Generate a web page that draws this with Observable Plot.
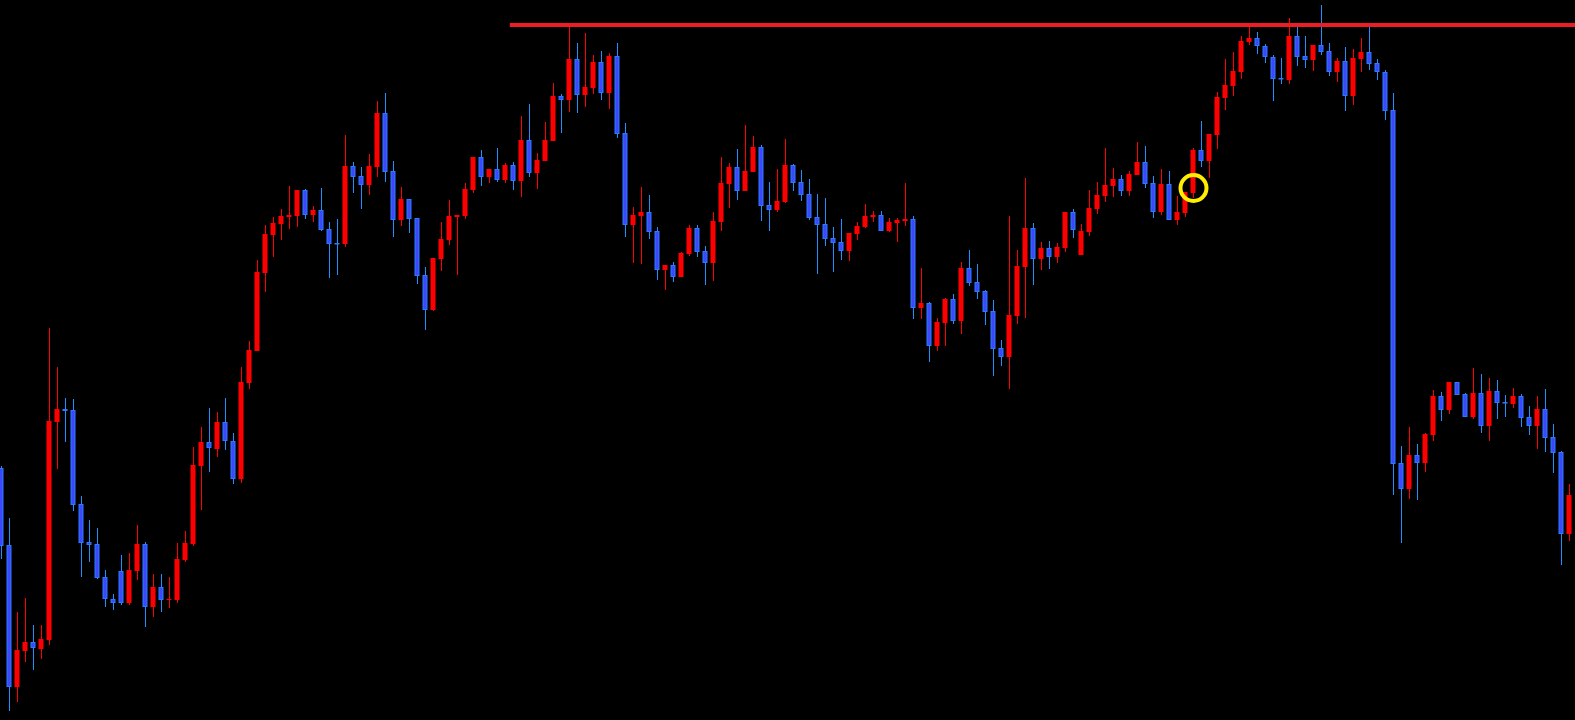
<!DOCTYPE html>
<html><head><meta charset="utf-8">
<script src="https://cdn.jsdelivr.net/npm/d3@7"></script>
<script src="https://cdn.jsdelivr.net/npm/@observablehq/plot@0.6"></script>
<style>html,body{margin:0;padding:0;background:#000;overflow:hidden}#chart svg{display:block}</style>
</head><body><div id="chart"></div>
<script>
// Candle values in chart units (0 = top of the chart, larger = lower price)
const open = [468,545,687,651,642,649,640,422,409,410,504,542,544,577,599,571,603,571,544,607,
587,600,600,560,544,466,442,449,422,441,479,383,351,273,235,224,217,216,190,215,
210,229,243,244,166,176,185,167,113,171,220,199,218,275,310,259,240,217,216,190,
157,177,169,180,165,181,140,173,161,141,96,100,59,95,88,62,93,56,133,225,
216,212,231,270,265,277,254,228,251,263,222,184,167,191,172,147,205,210,202,165,
182,194,217,224,238,242,251,234,227,217,215,231,223,221,219,308,303,346,323,299,
321,268,282,291,311,348,357,316,267,228,259,248,257,248,212,255,232,209,196,186,
179,191,175,162,183,212,184,220,213,193,150,161,135,98,86,72,42,38,46,57,
78,80,36,56,60,45,51,72,61,96,59,52,63,72,110,463,489,455,463,435,
396,410,382,394,417,393,426,391,402,404,396,417,426,409,437,452,534];
const close = [546,687,650,642,648,639,421,409,411,505,543,545,578,599,603,603,570,544,607,587,
600,599,559,543,465,442,448,422,441,479,382,350,272,234,223,216,215,190,215,210,
230,244,244.5,166,177,185,166,113,172,220,199,219,276,310,258,239,216,215,189,157,
177,169,180,165,181,140,173,160,140,96,100,59,95,87,62,93,56,134,225,215,
212,232,270,265,277,253,228,252,263,221,183,167,191,171,147,206,210,201,165,183,
195,218,225,239,243,251,233,226,216,215,231,222,220,219,308,303,346,322,299,321,
268,283,292,312,349,357,315,266,228,259,248,257,247,212,230,231,208,195,185,179,
191,174,162,184,212,184,220,212,192,150,161,134,97,85,71,41,38,46,57,79,
79.5,36,57,60,45,52,72,61,96,58,52,64,72,111,464,489,455,463,434,396,
410,382,395,417,393,426,391,403,403.5,396,418,426,409,438,453,534,495];
const high = [466,518,612,598,625,625,328,367,398,399,496,520,528,570,594,555,553,525,542,574,
574,577,543,531,447,427,408,412,398,433,367,341,260,225,217,209,186,190,189,206,
188,222,219,135,162,167,154,101,93,161,187,199,218,267,258,222,200,215,183,157,
150,169,148,163,162,116,104,153,122,83,94,25,43,33,55,51,53,43,123,207,
187,195,227,265,262,252,225,225,246,212,157,163,149,125,136,145,182,169,139,164,
170,179,194,198,227,219,233,222,204,211,211,218,218,183,216,268,302,318,298,294,
262,250,264,290,300,340,216,250,178,223,242,241,243,212,209,224,190,182,148,168,
175,171,142,146,176,169,171,196,192,148,121,134,92,59,52,36,27,32,44,55,
58,18,27,36,45,5,43,58,47,49,38,27,59,70,93,446,427,444,433,390,
392,382,382,393,368,374,378,380,395,388,394,406,396,389,424,451,484];
const low = [559,711,702,662,670,659,645,469,442,511,577,562,579,607,610,605,605,580,627,617,
612,608,603,562,546,510,472,457,450,484,483,389,351,292,257,240,229,227,219,222,
231,278,275,247,193,209,195,177,182,237,226,233,284,330,311,271,245,275,219,193,
186,183,182,183,190,197,177,189,161,141,133,112,113,107,94,100,109,138,237,263,
264,239,280,290,282,277,256,257,285,281,231,208,200,191,172,221,231,212,203,191,
201,220,274,246,272,260,261,240,228,222,231,232,242,226,319,319,362,351,346,324,
334,286,299,325,376,366,389,324,318,285,270,269,263,252,238,255,236,214,202,197,
196,196,175,188,218,215,220,225,217,198,167,178,149,110,96,79,45,54,63,101,
84,84,66,68,71,55,76,82,111,105,72,70,80,120,495,543,499,500,472,441,
421,414,395,417,419,433,441,419,417,408,427,435,449,452,473,565,541];

// Annotations
const resistanceLevel = 24.5;
const resistanceFrom = 63.6;
const resistanceTo = 197;
const markedCandle = 149;
const markedLevel = 187.5;

const candles = open.map((o, i) => ({i, open: o, high: high[i], low: low[i], close: close[i], up: close[i] < o}));
const up = candles.filter(d => d.up);
const down = candles.filter(d => !d.up);

const chart = Plot.plot({
  width: 1575, height: 720, margin: 0,
  style: {background: "#000", overflow: "hidden"},
  x: {type: "linear", domain: [0, 196], range: [1, 1569], axis: null},
  y: {type: "linear", domain: [0, 720], range: [0, 720], axis: null},
  marks: [
    Plot.ruleX(up, {x: "i", y1: "high", y2: "low", stroke: "#ff0000", strokeWidth: 1}),
    Plot.ruleX(down, {x: "i", y1: "high", y2: "low", stroke: "#1e90ff", strokeWidth: 1}),
    Plot.rect(up, {x1: "i", x2: "i", y1: "open", y2: "close", fill: "#ff0000", insetLeft: -2.5, insetRight: -2.5}),
    Plot.rect(down, {x1: "i", x2: "i", y1: "open", y2: "close", fill: "#2a7cff", insetLeft: -2.5, insetRight: -2.5}),
    Plot.rect(down, {x1: "i", x2: "i", y1: "open", y2: "close", fill: "#3b48ff", insetLeft: -1.5, insetRight: -1.5, insetTop: 1, insetBottom: 1}),
    Plot.ruleY([resistanceLevel], {x1: resistanceFrom, x2: resistanceTo, stroke: "#ee1c25", strokeWidth: 4}),
    Plot.dot([{x: markedCandle, y: markedLevel}], {x: "x", y: "y", r: 13, stroke: "#ffee00", strokeWidth: 4, fill: "none"})
  ]
});
document.getElementById("chart").append(chart);
</script>
</body></html>
